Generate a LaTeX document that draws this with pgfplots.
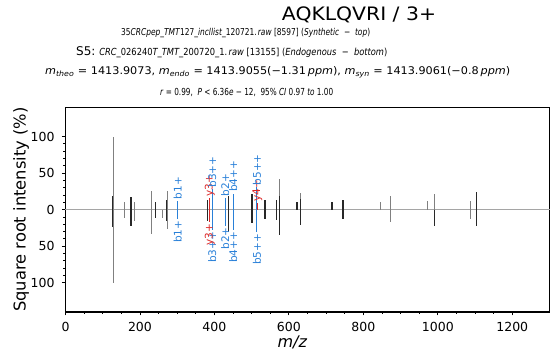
\documentclass[border=0pt]{standalone}
\usepackage{pgfplots}
\pgfplotsset{compat=1.18}
\usepackage{fontspec}
\setmainfont{DejaVu Sans}
\definecolor{bcol}{RGB}{41,128,216}
\definecolor{rcol}{RGB}{220,40,40}
\definecolor{pgrey}{RGB}{128,128,128}
\definecolor{pdark}{RGB}{40,40,40}
\definecolor{zgrey}{RGB}{165,165,165}
\newcommand{\lab}{\fontsize{10.5}{12}\selectfont}
\begin{document}
\begin{tikzpicture}
\useasboundingbox (0pt,0pt) rectangle (552pt,356pt);
\begin{axis}[
  at={(65.5pt,44pt)}, anchor=south west,
  scale only axis, width=484pt, height=204.7pt,
  xmin=0, xmax=1300, ymin=-140, ymax=140,
  xtick={0,200,400,600,800,1000,1200},
  ytick={-100,-50,0,50,100},
  yticklabels={100,50,0,50,100},
  minor x tick num=3, minor y tick num=4,
  tick pos=left, tick align=outside,
  major tick length=3.5pt, minor tick length=2pt,
  every tick/.style={black, line width=0.8pt},
  axis line style={line width=1.2pt},
  /pgf/number format/assume math mode=true,
  /pgf/number format/1000 sep={},
  ticklabel style={font=\fontsize{12.5}{14}\selectfont},
  xticklabel style={yshift=-3.5pt},
  yticklabel style={xshift=-4pt},
  xlabel={\textit{m/z}},
  ylabel={Square root intensity (\%)},
  xlabel style={at={(axis description cs:0.469,-0.171)}, anchor=base, font=\fontsize{16}{18}\selectfont},
  ylabel style={at={(axis description cs:-0.0919,0.5)}, anchor=center, font=\fontsize{16.3}{18}\selectfont},
  clip=false,
]
\addplot[zgrey, line width=1pt] coordinates {(0,0) (1300,0)};
% grey peaks
\addplot[ycomb, pgrey, line width=0.9pt, mark=none] table {
x y
128 100
157 11
186 11
231 26
274 26
574 42
631 23
846 11
873 19
973 12
991 22
1087 12
};
\addplot[ycomb, pgrey, line width=0.9pt, mark=none] table {
x y
128 -100
157 -12
186 -15
231 -33
260 -12
274 -27
631 -20
873 -17
1087 -13
};
% dark peaks
\addplot[ycomb, pdark, line width=1.3pt, mark=none] table {
x y
127 18
176 17
241 11
272 13
381 13
437 18
451 16
501 22
536 13.6
566 13.6
574 18
622 11
631 14
716 11
745 12.7
1104 24
};
\addplot[ycomb, pdark, line width=1.3pt, mark=none] table {
x y
127 -24
176 -22
241 -12
272 -15
381 -15
437 -30
451 -26
501 -18
536 -12.7
566 -13.6
574 -34
631 -21
745 -13
991 -23
1104 -23
};
% annotated b ions
\addplot[ycomb, bcol, line width=1pt, mark=none] table {
x y
301.2 12
393.8 28
429.3 16
450.3 22
514.3 31
};
\addplot[ycomb, bcol, line width=1pt, mark=none] table {
x y
301.2 -13
393.8 -28
429.3 -22
450.3 -28
514.3 -31
};
% annotated y ions
\addplot[ycomb, rcol, line width=1pt, mark=none] table {
x y
387.3 16
515.3 9
};
\addplot[ycomb, rcol, line width=1pt, mark=none] table {
x y
387.3 -17
};
% labels
\begin{scope}[every node/.style={rotate=90, inner sep=1.5pt, font=\lab}]
\node[anchor=west, text=bcol] at (axis cs:301.2,12) {b1+};
\node[anchor=west, text=rcol] at (axis cs:387.3,16) {y3+};
\node[anchor=west, text=bcol] at (axis cs:393.8,28) {b3++};
\node[anchor=west, text=bcol] at (axis cs:429.3,16) {b2+};
\node[anchor=west, text=bcol] at (axis cs:450.3,22) {b4++};
\node[anchor=west, text=rcol] at (axis cs:515.3,9) {y4+};
\node[anchor=west, text=bcol] at (axis cs:514.3,31) {b5++};
\node[anchor=east, text=bcol] at (axis cs:301.2,-13) {b1+};
\node[anchor=east, text=bcol] at (axis cs:393.8,-28) {b3++};
\node[anchor=east, text=rcol] at (axis cs:387.3,-17) {y3+};
\node[anchor=east, text=bcol] at (axis cs:429.3,-22) {b2+};
\node[anchor=east, text=bcol] at (axis cs:450.3,-28) {b4++};
\node[anchor=east, text=bcol] at (axis cs:514.3,-31) {b5++};
\end{scope}
\end{axis}
% titles
\node[anchor=base] at (359pt,335pt) {\scalebox{1.1}[1]{\fontsize{18.5}{20}\selectfont AQKLQVRI / 3+}};
\node[anchor=base west, inner sep=0pt] at (121pt,320pt) {\resizebox{249pt}{7.2pt}{\fontsize{10}{12}\selectfont 35\textit{CRCpep\_TMT}127\textit{\_incllist\_}120721.\,\textit{raw} [8597] (\textit{Synthetic}\ \ −\ \ \textit{top})}};
\node[anchor=base west, inner sep=0pt] at (76pt,300pt) {\fontsize{12}{14}\selectfont S5:\ \resizebox{288pt}{7.4pt}{\fontsize{10}{12}\selectfont\textit{CRC\_}026240\textit{T\_TMT\_}200720\textit{\_}1.\,\textit{raw} [13155] (\textit{Endogenous}\ \ −\ \ \textit{bottom})}};
\node[anchor=base west, inner sep=0pt] at (45pt,281pt) {\resizebox{465pt}{8pt}{\fontsize{10}{12}\selectfont\textit{m}\textsubscript{\textit{theo}} = 1413.9073, \textit{m}\textsubscript{\textit{endo}} = 1413.9055(−1.31\,\textit{ppm}), \textit{m}\textsubscript{\textit{syn}} = 1413.9061(−0.8\,\textit{ppm})}};
\node[anchor=base west, inner sep=0pt] at (160pt,260pt) {\resizebox{173pt}{7.2pt}{\fontsize{10}{12}\selectfont\textit{r} = 0.99,\ \ \textit{P} < 6.36\textit{e} − 12,\ \ 95\%\ \textit{CI} 0.97 \textit{to} 1.00}};
\end{tikzpicture}
\end{document}
